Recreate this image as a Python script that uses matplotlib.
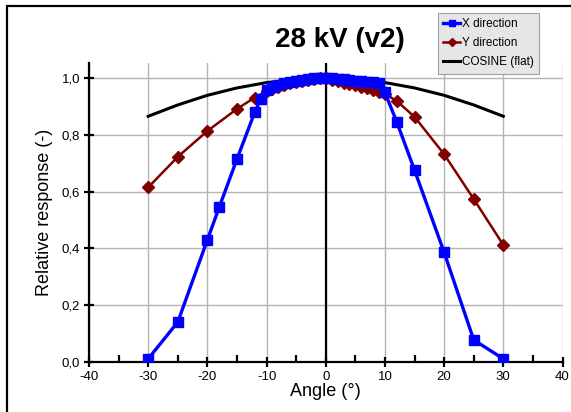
import matplotlib
matplotlib.use("Agg")
import matplotlib.pyplot as plt
from matplotlib.patches import Rectangle
from matplotlib.ticker import MultipleLocator, FuncFormatter

plt.rcParams['font.family'] = ['Liberation Sans', 'DejaVu Sans']
plt.rcParams['axes.unicode_minus'] = False

# Angle grid (degrees) and measured relative responses
x_angles = [-30, -25, -20, -18, -15, -12, -11, -10, -9, -8, -7, -6, -5, -4, -3, -2, -1,
            0, 1, 2, 3, 4, 5, 6, 7, 8, 9, 10, 12, 15, 20, 25, 30]
x_response = [0.01, 0.14, 0.43, 0.545, 0.715, 0.88, 0.927, 0.96, 0.968, 0.976, 0.982,
              0.987, 0.991, 0.995, 0.998, 1.0, 1.0, 1.0, 1.0, 0.998, 0.996, 0.994,
              0.992, 0.99, 0.988, 0.986, 0.983, 0.95, 0.846, 0.676, 0.386, 0.077, 0.01]

y_angles = [-30, -25, -20, -15, -12, -10, -9, -8, -7, -6, -5, -4, -3, -2, -1,
            0, 1, 2, 3, 4, 5, 6, 7, 8, 9, 10, 12, 15, 20, 25, 30]
y_response = [0.615, 0.723, 0.814, 0.892, 0.932, 0.955, 0.963, 0.971, 0.977, 0.983,
              0.988, 0.992, 0.995, 0.998, 1.0, 1.0, 0.995, 0.99, 0.985, 0.98, 0.976,
              0.971, 0.966, 0.96, 0.953, 0.945, 0.92, 0.864, 0.732, 0.574, 0.412]

cos_angles = [-30, -25, -20, -15, -10, -5, 0, 5, 10, 15, 20, 25, 30]
cos_response = [0.866, 0.906, 0.940, 0.966, 0.985, 0.996, 1.0, 0.996, 0.985, 0.966,
                0.940, 0.906, 0.866]

fig = plt.figure(figsize=(5.71, 4.12), dpi=100)
fig.patch.set_facecolor('white')

# Outer frame of the figure
frame = Rectangle((7 / 571, -0.1), 1.2, 1.1 - 6.5 / 412, transform=fig.transFigure,
                  fill=False, edgecolor='black', linewidth=1.6, zorder=0)
fig.patches.append(frame)

ax = fig.add_axes([89 / 571, 1 - 361.7 / 412, (562.5 - 89) / 571, (361.7 - 63) / 412])
ax.set_xlim(-40, 40)
ax.set_ylim(0, 1.054)

ax.xaxis.set_major_locator(MultipleLocator(10))
ax.xaxis.set_minor_locator(MultipleLocator(5))
ax.yaxis.set_major_locator(MultipleLocator(0.2))
ax.yaxis.set_major_formatter(FuncFormatter(lambda v, p: f"{v:.1f}".replace('.', ',')))

ax.grid(True, which='major', color='#b4b4b4', linewidth=1.0, zorder=0)
ax.set_axisbelow(True)

for s in ('top', 'right'):
    ax.spines[s].set_visible(False)
for s in ('left', 'bottom'):
    ax.spines[s].set_linewidth(1.6)

ax.tick_params(axis='both', which='major', direction='inout', length=7, width=1.6,
               labelsize=9.5, pad=3)
ax.tick_params(axis='x', which='minor', direction='in', length=5, width=1.6)
ax.tick_params(axis='y', which='minor', length=0)

ax.axvline(0, color='black', linewidth=1.6, zorder=2)

ax.plot(cos_angles, cos_response, color='black', linewidth=2.2, label='COSINE (flat)', zorder=3)
ax.plot(y_angles, y_response, color='#800000', linewidth=1.8, marker='D', markersize=6,
        label='Y direction', zorder=4)
ax.plot(x_angles, x_response, color='#0000ff', linewidth=2.4, marker='s', markersize=6.5,
        label='X direction', zorder=5)

ax.set_xlabel('Angle (°)', fontsize=13, labelpad=0)
ax.set_ylabel('Relative response (-)', fontsize=13, labelpad=6)

fig.text(340 / 571, 1 - 40 / 412, '28 kV (v2)', fontsize=20, fontweight='bold',
         ha='center', va='center')

handles, labels = ax.get_legend_handles_labels()
order = [2, 1, 0]
leg = fig.legend([handles[i] for i in order], [labels[i] for i in order],
                 loc='upper left', bbox_to_anchor=(438 / 571, 1 - 13 / 412),
                 fontsize=8.5, frameon=True, fancybox=False, borderpad=0.45,
                 handlelength=1.4, handletextpad=0.2, labelspacing=0.6,
                 borderaxespad=0, markerscale=0.7)
leg.get_frame().set_facecolor('#e6e6e6')
leg.get_frame().set_edgecolor('#a0a0a0')
leg.get_frame().set_alpha(1)
leg.get_frame().set_linewidth(0.8)

fig.savefig('out.png', dpi=100)
